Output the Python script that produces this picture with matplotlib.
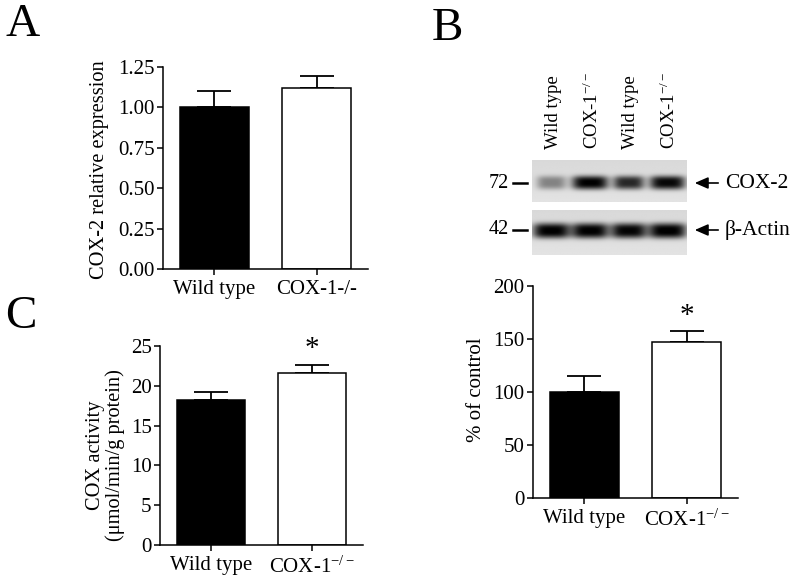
import matplotlib
matplotlib.use('Agg')
import matplotlib.pyplot as plt
import numpy as np

plt.rcParams['font.family'] = ['Liberation Serif', 'DejaVu Serif']
plt.rcParams['mathtext.fontset'] = 'custom'
plt.rcParams['mathtext.rm'] = 'Liberation Serif'
plt.rcParams['mathtext.it'] = 'Liberation Serif:italic'

# data
groups = ['Wild type', 'COX-1-/-']
groups_sup = ['Wild type', r'COX-1$^{\mathrm{-/-}}$']

a_mean = [1.00, 1.12]
a_err = [0.10, 0.075]

c_mean = [18.2, 21.6]
c_err = [1.0, 1.0]

b_mean = [100, 147]
b_err = [15, 11]

blot_lanes = ['Wild type', r'COX-1$^{\mathrm{-/-}}$', 'Wild type', r'COX-1$^{\mathrm{-/-}}$']
cox2_bands = [0.40, 0.97, 0.80, 0.94]   # band darkness
cox2_width = [0.38, 0.47, 0.40, 0.46]
actin_bands = [0.97, 0.97, 0.95, 0.98]
actin_width = [0.48, 0.48, 0.46, 0.49]

W, H = 792, 579
fig = plt.figure(figsize=(W / 100, H / 100), dpi=100)


def px_axes(x0, y0, x1, y1):
    return fig.add_axes([x0 / W, 1 - y1 / H, (x1 - x0) / W, (y1 - y0) / H])


def bar_panel(ax, means, errs, ylim, yticks, ticklabels, xlabels, stars=False, star_y=None):
    x = np.arange(len(means))
    ax.bar(x, means, width=0.67, color=['black', 'white'], edgecolor='black', linewidth=1.1, zorder=2)
    ax.errorbar(x, means, yerr=[[0] * len(errs), errs], fmt='none', ecolor='black',
                elinewidth=1.3, capsize=12, capthick=1.3, zorder=1)
    ax.set_xlim(-0.5, 1.5)
    ax.set_ylim(*ylim)
    ax.set_yticks(yticks)
    ax.set_yticklabels(ticklabels)
    ax.set_xticks(x)
    ax.set_xticklabels(xlabels)
    for s in ['top', 'right']:
        ax.spines[s].set_visible(False)
    for s in ['left', 'bottom']:
        ax.spines[s].set_linewidth(1.1)
    ax.tick_params(axis='both', labelsize=15, length=4, width=1.1, direction='out', pad=2)
    ax.tick_params(axis='x', pad=4)
    if stars:
        ax.text(1, star_y, '*', ha='center', va='center', fontsize=21)


# panel A
axA = px_axes(163, 67, 368, 269)
bar_panel(axA, a_mean, a_err, (0, 1.25), [0, 0.25, 0.5, 0.75, 1.0, 1.25],
          ['0.00', '0.25', '0.50', '0.75', '1.00', '1.25'], groups)
axA.set_ylabel('COX-2 relative expression', fontsize=14.7)
axA.yaxis.set_label_coords(-0.265, 0.49)

# panel C
axC = px_axes(160, 346, 363, 545)
bar_panel(axC, c_mean, c_err, (0, 25), [0, 5, 10, 15, 20, 25],
          ['0', '5', '10', '15', '20', '25'], groups_sup, stars=True, star_y=24.6)
axC.set_ylabel('COX activity\n(\u03bcmol/min/g protein)', fontsize=14.7, linespacing=1.05)
axC.yaxis.set_label_coords(-0.17, 0.45)

# panel B densitometry
axB = px_axes(533, 286, 738, 498)
bar_panel(axB, b_mean, b_err, (0, 200), [0, 50, 100, 150, 200],
          ['0', '50', '100', '150', '200'], groups_sup, stars=True, star_y=172)
axB.set_ylabel('% of control', fontsize=15)
axB.yaxis.set_label_coords(-0.23, 0.51)


# western blot strips
def blot(ax, dark, widths, yc, sy):
    nx, ny = 300, 80
    xs = np.linspace(0, 4, nx)
    ys = np.linspace(0, 1, ny)
    X, Y = np.meshgrid(xs, ys)
    img = np.full((ny, nx), 0.89) - 0.04 * (1 - Y)
    for i, (d, w) in enumerate(zip(dark, widths)):
        prof = np.exp(-np.abs((X - (i + 0.5)) / w) ** 4) * np.exp(-np.abs((Y - yc) / sy) ** 3)
        img -= d * 0.9 * prof
    img = np.clip(img, 0, 1)
    ax.imshow(img, cmap='gray', vmin=0, vmax=1, extent=(0, 4, 1, 0), aspect='auto',
              interpolation='bilinear')
    ax.set_xlim(0, 4)
    ax.set_ylim(1, 0)
    ax.axis('off')


axT = px_axes(532, 160, 687, 202)
blot(axT, cox2_bands, cox2_width, 0.55, 0.16)
axU = px_axes(532, 210, 687, 255)
blot(axU, actin_bands, actin_width, 0.46, 0.17)

for i, lab in enumerate(blot_lanes):
    axT.text(i + 0.55, -0.25, lab, rotation=90, ha='center', va='bottom', fontsize=13.5,
             transform=axT.transData, clip_on=False)

# marker sizes and arrows
ov = fig.add_axes([0, 0, 1, 1], facecolor='none')
ov.set_xlim(0, W)
ov.set_ylim(H, 0)
ov.axis('off')
for lab, y in [('72', 183), ('42', 230)]:
    ov.text(509, y, lab, ha='right', va='center', fontsize=14.5)
    ov.plot([513, 527], [y, y], color='black', lw=1.8)
for lab, y in [('COX-2', 183), ('\u03b2-Actin', 230)]:
    ov.annotate('', xy=(692, y), xytext=(721, y),
                arrowprops=dict(arrowstyle='-|>,head_length=0.8,head_width=0.35', color='black', lw=1.2))
    ov.text(725, y, lab, ha='left', va='center', fontsize=15.5)

# panel letters
fig.text(5 / W, 1 - 4 / H, 'A', fontsize=34, ha='left', va='top')
fig.text(432 / W, 1 - 8 / H, 'B', fontsize=34, ha='left', va='top')
fig.text(5 / W, 1 - 295 / H, 'C', fontsize=34, ha='left', va='top')

fig.savefig('out.png', dpi=100)
